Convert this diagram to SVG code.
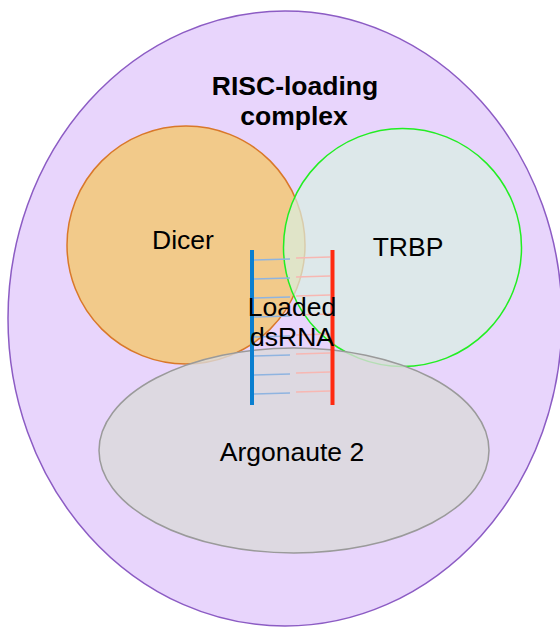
<svg xmlns="http://www.w3.org/2000/svg" width="560" height="627" viewBox="0 0 560 627">
<style>
.lbl{font-family:"Liberation Sans",Arial,sans-serif;font-size:26.5px;fill:#000;text-anchor:middle}
.ttl{font-family:"Liberation Sans",Arial,sans-serif;font-size:26.5px;font-weight:bold;fill:#000;text-anchor:middle}
.rb{stroke:#8fb4e0;stroke-width:1.5}
.rr{stroke:#f7b7b2;stroke-width:1.5}
</style>
<rect width="560" height="627" fill="#ffffff"/>
<g id="risc">
<ellipse cx="285" cy="318.5" rx="277" ry="307.5" fill="#e8d5fc" stroke="#8c5cc4" stroke-width="1.5"/>
<text class="ttl" x="295" y="95">RISC-loading</text>
<text class="ttl" x="294" y="125">complex</text>
</g>
<g id="dicer">
<circle cx="186" cy="245" r="119" fill="#f2ca8a" stroke="#d9782a" stroke-width="1.5"/>
<text class="lbl" x="183" y="249">Dicer</text>
</g>
<g id="trbp">
<circle cx="402.5" cy="247.5" r="119" fill="#d8efe2" fill-opacity="0.7" stroke="#22ee22" stroke-width="1.5"/>
<text class="lbl" x="408" y="256">TRBP</text>
</g>
<g id="argonaute">
<ellipse cx="294" cy="450.5" rx="195" ry="102.5" fill="#d9d9d9" fill-opacity="0.8" stroke="#9a9a9a" stroke-width="1.5"/>
<text class="lbl" x="292" y="461">Argonaute 2</text>
</g>
<g id="dsrna">
<g id="rungs">
<line class="rb" x1="254" y1="260" x2="290" y2="259"/>
<line class="rr" x1="296" y1="258" x2="330" y2="257"/>
<line class="rb" x1="254" y1="279" x2="290" y2="278"/>
<line class="rr" x1="296" y1="277" x2="330" y2="276"/>
<line class="rb" x1="254" y1="298" x2="290" y2="297"/>
<line class="rr" x1="296" y1="296" x2="330" y2="295"/>
<line class="rb" x1="254" y1="317" x2="290" y2="316"/>
<line class="rr" x1="296" y1="315" x2="330" y2="314"/>
<line class="rb" x1="254" y1="337" x2="290" y2="336"/>
<line class="rr" x1="296" y1="335" x2="330" y2="334"/>
<line class="rb" x1="254" y1="356" x2="290" y2="355"/>
<line class="rr" x1="296" y1="354" x2="330" y2="353"/>
<line class="rb" x1="254" y1="375" x2="290" y2="374"/>
<line class="rr" x1="296" y1="373" x2="330" y2="372"/>
<line class="rb" x1="254" y1="394" x2="290" y2="393"/>
<line class="rr" x1="296" y1="392" x2="330" y2="391"/>
</g>
<line x1="252" y1="250" x2="252" y2="405" stroke="#0a7fd0" stroke-width="4"/>
<line x1="332.5" y1="250" x2="332.5" y2="405" stroke="#ff2a10" stroke-width="4"/>
<text class="lbl" x="292" y="316">Loaded</text>
<text class="lbl" x="292" y="346">dsRNA</text>
</g>
</svg>
